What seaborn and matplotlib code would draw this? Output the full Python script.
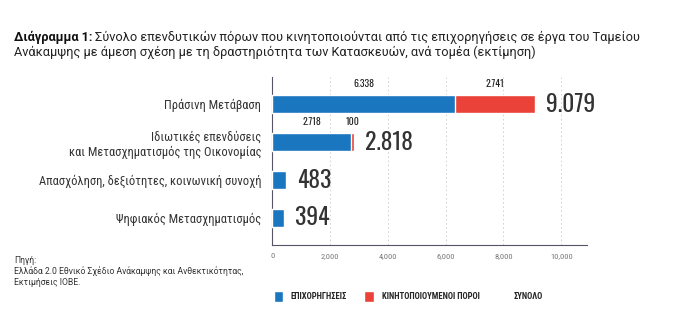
import matplotlib
matplotlib.use("Agg")
import matplotlib.pyplot as plt
import seaborn as sns
import pandas as pd
from matplotlib.patches import Patch

categories = ["Πράσινη Μετάβαση",
              "Ιδιωτικές επενδύσεις\nκαι Μετασχηματισμός της Οικονομίας",
              "Απασχόληση, δεξιότητες, κοινωνική συνοχή",
              "Ψηφιακός Μετασχηματισμός"]
grants = [6338, 2718, 483, 394]
mobilized = [2741, 100, 0, 0]
totals = [9079, 2818, 483, 394]
grant_labels = ["6.338", "2.718", "", ""]
mob_labels = ["2.741", "100", "", ""]
total_labels = ["9.079", "2.818", "483", "394"]
xticks = [0, 2000, 4000, 6000, 8000, 10000]
xtick_labels = ["0", "2,000", "4,000", "6,000", "8,000", "10,000"]
legend_labels = ["ΕΠΙΧΟΡΗΓΗΣΕΙΣ", "ΚΙΝΗΤΟΠΟΙΟΥΜΕΝΟΙ ΠΟΡΟΙ", "ΣΥΝΟΛΟ"]

BLUE = "#1b76c0"
RED = "#ea4238"

sns.set_theme(style="white")
COND = ["Roboto Condensed", "Fira Sans Condensed", "DejaVu Sans"]
NUM = ["Oswald", "Roboto Condensed", "DejaVu Sans"]
plt.rcParams["font.family"] = ["Roboto", "DejaVu Sans"]

df = pd.DataFrame({"cat": categories, "grants": grants,
                   "mob": mobilized, "total": totals})

fig = plt.figure(figsize=(7, 3.24), dpi=100)
ax = fig.add_axes([0.389, 0.244, 0.450, 0.518])

sns.barplot(data=df, y="cat", x="total", color=RED, orient="h",
            width=0.47, ax=ax, saturation=1, zorder=3)
sns.barplot(data=df, y="cat", x="grants", color=BLUE, orient="h",
            width=0.47, ax=ax, saturation=1, zorder=4)

ax.set_xlim(0, 10900)
ax.set_ylim(3.71, -0.71)
ax.set_xlabel("")
ax.set_ylabel("")
ax.set_xticks(xticks)
ax.set_xticklabels(xtick_labels, fontsize=6, color="#777777", family=COND)
ax.tick_params(axis="x", length=0, pad=6)
ax.tick_params(axis="y", length=0, pad=8)
for lab in ax.get_yticklabels():
    lab.set_family(COND)
    lab.set_fontsize(9)
    lab.set_color("#333333")
ax.grid(axis="x", linestyle=(0, (2, 3)), color="#cccccc", linewidth=0.6, zorder=0)
for s in ["top", "right"]:
    ax.spines[s].set_visible(False)
for s in ["left", "bottom"]:
    ax.spines[s].set_color("#555566")
    ax.spines[s].set_linewidth(0.8)

for i in range(len(categories)):
    if grant_labels[i]:
        ax.text(grants[i] / 2, i - 0.4, grant_labels[i], ha="center", va="bottom",
                fontsize=7, fontweight="bold", family=NUM, color="#222222")
    if mob_labels[i]:
        ax.text(grants[i] + mobilized[i] / 2, i - 0.4, mob_labels[i], ha="center",
                va="bottom", fontsize=7, fontweight="bold", family=NUM, color="#222222")
    ax.text(totals[i] + 380, i, total_labels[i], ha="left", va="center",
            fontsize=17, fontweight="bold", family=NUM, color="#333333")

t1 = fig.text(0.02, 0.875, "Διάγραμμα 1:", fontsize=9.2, fontweight="bold", color="#111111")
fig.canvas.draw()
bb = t1.get_window_extent()
x2 = bb.x1 / fig.bbox.width + 0.004
fig.text(x2, 0.875, "Σύνολο επενδυτικών πόρων που κινητοποιούνται από τις επιχορηγήσεις σε έργα του Ταμείου",
         fontsize=9.2, color="#222222")
fig.text(0.02, 0.828, "Ανάκαμψης με άμεση σχέση με τη δραστηριότητα των Κατασκευών, ανά τομέα (εκτίμηση)",
         fontsize=9.2, color="#222222")

fig.text(0.02, 0.21, "Πηγή:\nΕλλάδα 2.0 Εθνικό Σχέδιο Ανάκαμψης και Ανθεκτικότητας,\nΕκτιμήσεις ΙΟΒΕ.",
         fontsize=6.2, color="#333333", va="top", linespacing=1.2)

handles = [Patch(facecolor=BLUE), Patch(facecolor=RED), Patch(facecolor="white")]
fig.legend(handles, legend_labels,
           loc="center left", bbox_to_anchor=(0.38, 0.085), ncol=3, frameon=False,
           handlelength=1.1, handleheight=1.6, columnspacing=2.0, handletextpad=0.9,
           prop={"family": COND, "size": 6.2, "weight": "bold"})

fig.savefig("out.png", dpi=100, facecolor="white")
